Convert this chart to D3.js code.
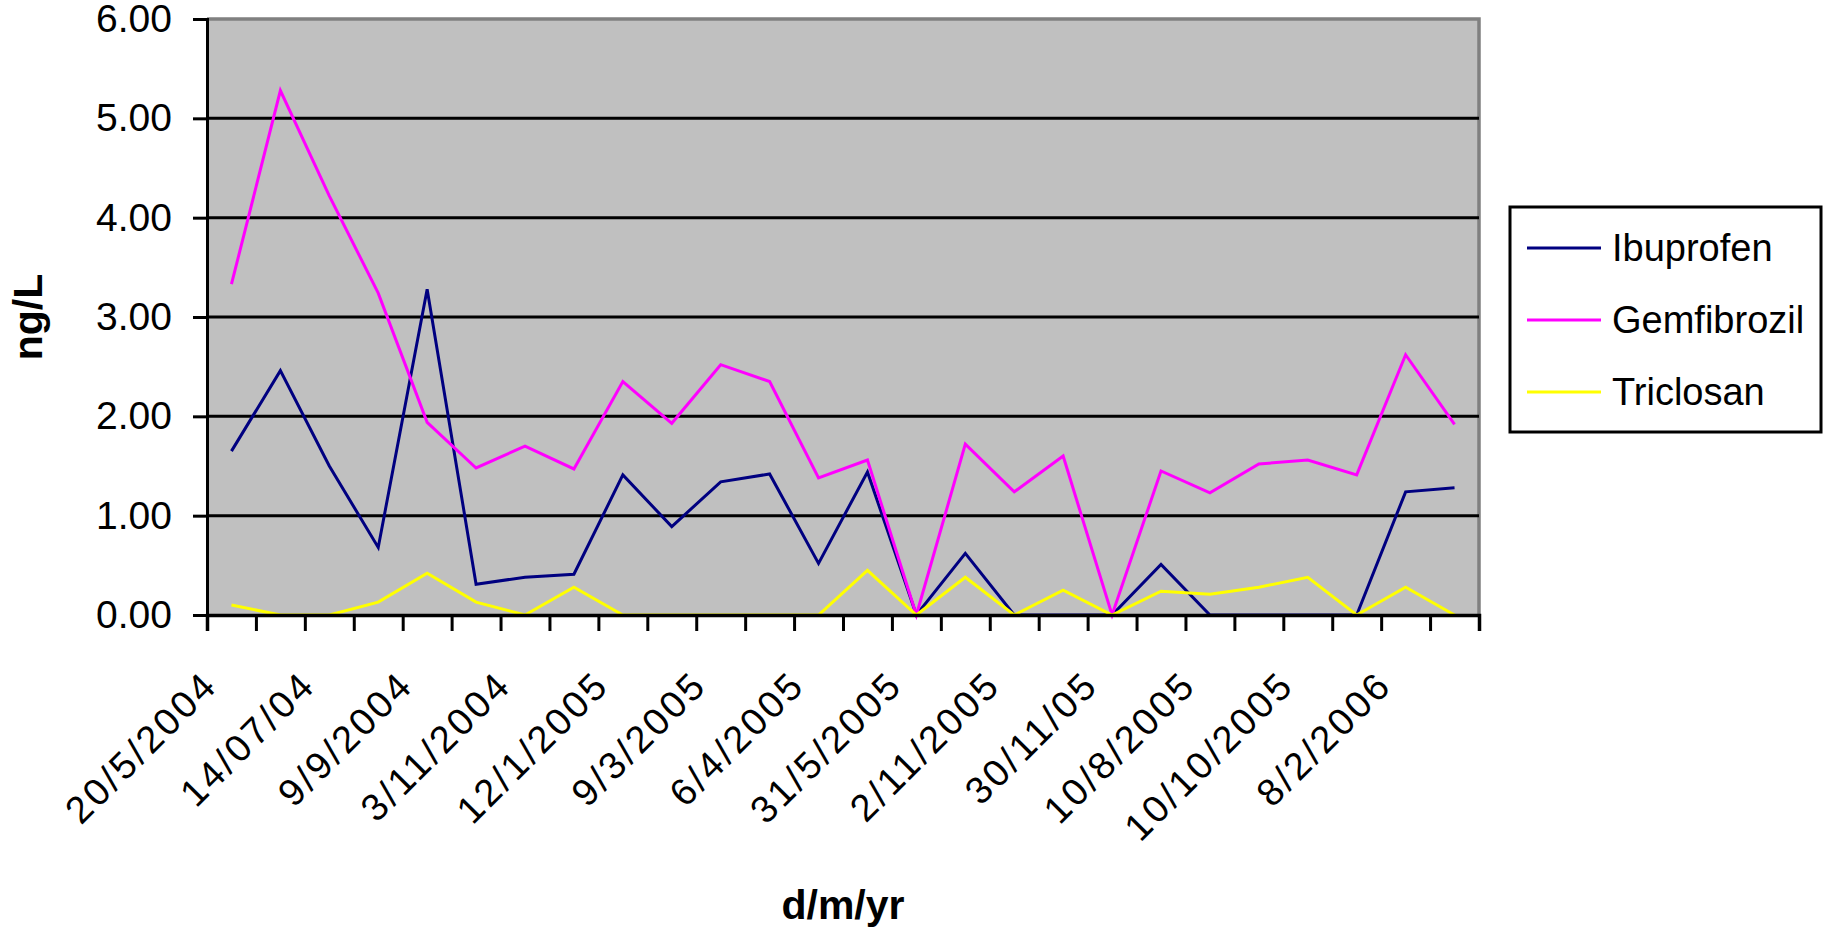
<!DOCTYPE html>
<html><head><meta charset="utf-8">
<script src="https://cdn.jsdelivr.net/npm/d3@7"></script>
<style>body{margin:0;background:#fff} svg{display:block}</style>
</head><body>
<svg id="chart" width="1826" height="929"></svg>
<script>
// 26 sampling dates; the axis labels only every other one
const categories = ["20/5/2004","","14/07/04","","9/9/2004","","3/11/2004","","12/1/2005","","9/3/2005","","6/4/2005","","31/5/2005","","2/11/2005","","30/11/05","","10/8/2005","","10/10/2005","","8/2/2006",""];
const ibuprofen   = [1.65,2.46,1.50,0.68,3.28,0.31,0.38,0.41,1.41,0.89,1.34,1.42,0.52,1.44,0,0.62,0,0,0,0.51,0,0,0,0,1.24,1.28];
const gemfibrozil = [3.33,5.28,4.22,3.24,1.94,1.48,1.70,1.47,2.35,1.93,2.52,2.35,1.38,1.56,0,1.72,1.24,1.60,0,1.45,1.23,1.52,1.56,1.41,2.62,1.92];
const triclosan   = [0.10,0,0,0.13,0.42,0.13,0,0.28,0,0,0,0,0,0.45,0,0.38,0,0.25,0,0.24,0.21,0.28,0.38,0,0.28,0];
const seriesNames = ["Ibuprofen","Gemfibrozil","Triclosan"];
const seriesColors = ["#000080","#FF00FF","#FFFF00"];
const yTicks = [0,1,2,3,4,5,6];
const yTitle = "ng/L";
const xTitle = "d/m/yr";

const series = [ibuprofen, gemfibrozil, triclosan];
const L = 207, R = 1479, T = 19, B = 615;
const svg = d3.select("#chart");
const font = "'Liberation Sans', Arial, sans-serif";

const x = d3.scaleBand().domain(d3.range(categories.length)).range([L, R]).paddingInner(0).paddingOuter(0);
const xEdge = d3.scaleLinear().domain([0, categories.length]).range([L, R]);
const y = d3.scaleLinear().domain([0, 6]).range([B, T]);
const cx = i => x(i) + x.bandwidth() / 2;

// plot background
svg.append("rect").attr("x", L).attr("y", T).attr("width", R - L).attr("height", B - T).attr("fill", "#C0C0C0");
// gray border top/right
svg.append("path").attr("d", `M${L},${T}H${R}V${B}`).attr("fill", "none").attr("stroke", "#808080").attr("stroke-width", 3.5);

// gridlines
svg.append("g").selectAll("line").data(yTicks.filter(d => d > 0 && d < 6)).join("line")
  .attr("x1", L).attr("x2", R).attr("y1", d => y(d)).attr("y2", d => y(d))
  .attr("stroke", "#000").attr("stroke-width", 3);

// series lines
const line = d3.line().x((d, i) => cx(i)).y(d => y(d));
series.forEach((s, k) => {
  svg.append("path").datum(s).attr("d", line).attr("fill", "none")
    .attr("stroke", seriesColors[k]).attr("stroke-width", 3).attr("stroke-linejoin", "miter");
});

// y axis
const yAxis = svg.append("g").attr("transform", `translate(${L},0)`)
  .call(d3.axisLeft(y).tickValues(yTicks).tickFormat(d3.format(".2f")).tickSize(14).tickPadding(21));
yAxis.select(".domain").attr("stroke", "#000").attr("stroke-width", 3);
yAxis.selectAll(".tick line").attr("stroke", "#000").attr("stroke-width", 3);
yAxis.selectAll("text").attr("font-family", font).attr("font-size", 39).attr("fill", "#000");

// x axis
const xAxis = svg.append("g").attr("transform", `translate(0,${B})`)
  .call(d3.axisBottom(xEdge).tickValues(d3.range(categories.length + 1)).tickFormat("").tickSize(16));
xAxis.select(".domain").attr("stroke", "#000").attr("stroke-width", 3.5);
xAxis.selectAll(".tick line").attr("stroke", "#000").attr("stroke-width", 3);

svg.append("g").selectAll("text").data(categories.map((c, i) => ({c, i})).filter(d => d.c !== "")).join("text")
  .attr("transform", d => `translate(${cx(d.i) - 31},${B + 53}) rotate(-45)`)
  .attr("text-anchor", "end").attr("dominant-baseline", "hanging")
  .attr("font-family", font).attr("font-size", 38).attr("letter-spacing", 3).attr("fill", "#000")
  .text(d => d.c);

// axis titles
svg.append("text").attr("x", (L + R) / 2).attr("y", 905).attr("text-anchor", "middle").attr("dominant-baseline", "central")
  .attr("font-family", font).attr("font-weight", "bold").attr("font-size", 41).text(xTitle);
svg.append("text").attr("transform", `translate(28,317) rotate(-90)`).attr("text-anchor", "middle").attr("dominant-baseline", "central")
  .attr("font-family", font).attr("font-weight", "bold").attr("font-size", 41).text(yTitle);

// legend
const lg = svg.append("g");
lg.append("rect").attr("x", 1510).attr("y", 207).attr("width", 311).attr("height", 225)
  .attr("fill", "#fff").attr("stroke", "#000").attr("stroke-width", 3);
const rowY = d3.scalePoint().domain(seriesNames).range([248, 392]);
seriesNames.forEach((n, k) => {
  lg.append("line").attr("x1", 1527).attr("x2", 1601).attr("y1", rowY(n)).attr("y2", rowY(n))
    .attr("stroke", seriesColors[k]).attr("stroke-width", 3);
  lg.append("text").attr("x", 1612).attr("y", rowY(n)).attr("dominant-baseline", "central")
    .attr("font-family", font).attr("font-size", 38).attr("fill", "#000").text(n);
});
</script>
</body></html>
